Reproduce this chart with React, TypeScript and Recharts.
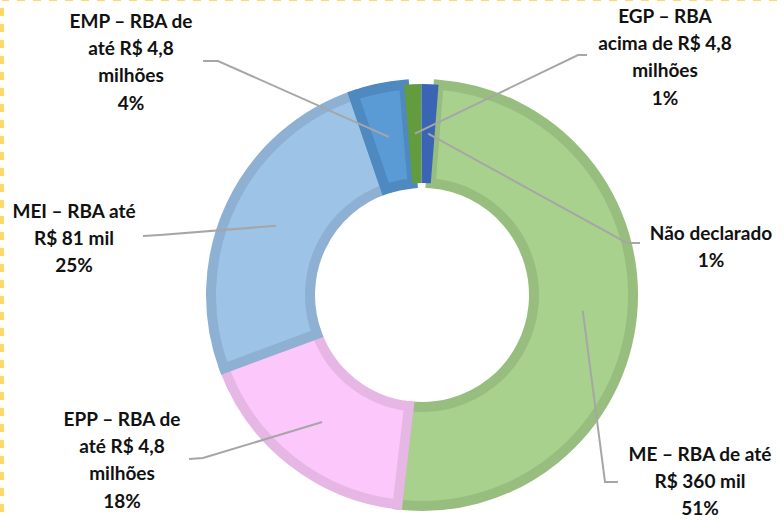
import React from 'react';
import { PieChart, Pie, Cell } from 'recharts';

const CATEGORIES = ['ME', 'EPP', 'MEI', 'EMP', 'EGP', 'Não declarado'];
const SHARES = [50.6, 17.5, 25.4, 3.9, 1.3, 1.3];
const LABEL_LINES = [
  ['ME – RBA de até', 'R$ 360 mil'],
  ['EPP – RBA de', 'até R$ 4,8', 'milhões'],
  ['MEI – RBA até', 'R$ 81 mil'],
  ['EMP – RBA de', 'até R$ 4,8', 'milhões'],
  ['EGP – RBA', 'acima de R$ 4,8', 'milhões'],
  ['Não declarado'],
];

const FILLS = ['#A9D18E', '#FCC8FC', '#9DC3E6', '#5B9BD5', '#629C3F', '#3A65B4'];
const BORDERS = ['#97BE7F', '#E6B6E4', '#8DB0D3', '#4E89C0', '#629C3F', '#3A65B4'];
const BORDER_W = [10, 10, 10, 10, 0, 0];

// text block centre x / first line y, leader elbow and end
const LAYOUT = [
  { x: 700, y: 453, elbow: [605, 482], end: [618, 482] },
  { x: 122, y: 418, elbow: [203, 458], end: [189, 459] },
  { x: 74, y: 210, elbow: [160, 235], end: [143, 236] },
  { x: 131, y: 20, elbow: [218, 61], end: [203, 61] },
  { x: 665, y: 15, elbow: [578, 55], end: [587, 55] },
  { x: 711, y: 232, elbow: [627, 243], end: [640, 243] },
];

const data = CATEGORIES.map((name, i) => ({ name, value: SHARES[i] }));
const RAD = Math.PI / 180;
const LINE_H = 27.4;

const renderLabel = (props: any) => {
  const { cx, cy, midAngle, innerRadius, outerRadius, index, percent } = props;
  const r = (innerRadius + outerRadius) / 2;
  const ax = cx + r * Math.cos(-midAngle * RAD);
  const ay = cy + r * Math.sin(-midAngle * RAD);
  const lay = LAYOUT[index];
  const lines = [...LABEL_LINES[index], `${Math.round(percent * 100)}%`];
  return (
    <g>
      <polyline
        points={`${ax},${ay} ${lay.elbow[0]},${lay.elbow[1]} ${lay.end[0]},${lay.end[1]}`}
        fill="none"
        stroke="#A6A6A6"
        strokeWidth={2}
      />
      <text
        x={lay.x}
        y={lay.y}
        textAnchor="middle"
        fill="#111"
        style={{ fontFamily: 'Lato, "Liberation Sans", sans-serif', fontSize: 19, fontWeight: 700 }}
      >
        {lines.map((t, i) => (
          <tspan key={i} x={lay.x} y={lay.y + i * LINE_H} dominantBaseline="central">
            {t}
          </tspan>
        ))}
      </text>
    </g>
  );
};

export default function App() {
  return (
    <div style={{ position: 'absolute', left: 0, top: 0, width: 784, height: 520, background: '#fff' }}>
      <svg width={784} height={520} style={{ position: 'absolute', left: 0, top: 0 }}>
        <path d="M2,530 L2,-1 L800,-1" fill="none" stroke="#FFD966" strokeWidth={4} strokeDasharray="8 8" strokeDashoffset={-2} />
      </svg>
      <div style={{ position: 'absolute', left: 0, top: 0 }}>
        <PieChart width={784} height={520}>
          <Pie
            data={data}
            dataKey="value"
            nameKey="name"
            cx={417}
            cy={290}
            innerRadius={112}
            outerRadius={211}
            startAngle={85.5}
            endAngle={-274.5}
            label={renderLabel}
            labelLine={false}
            isAnimationActive={false}
          >
            {data.map((d, i) => (
              <Cell key={d.name} fill={FILLS[i]} stroke={BORDERS[i]} strokeWidth={BORDER_W[i]} />
            ))}
          </Pie>
        </PieChart>
      </div>
    </div>
  );
}
